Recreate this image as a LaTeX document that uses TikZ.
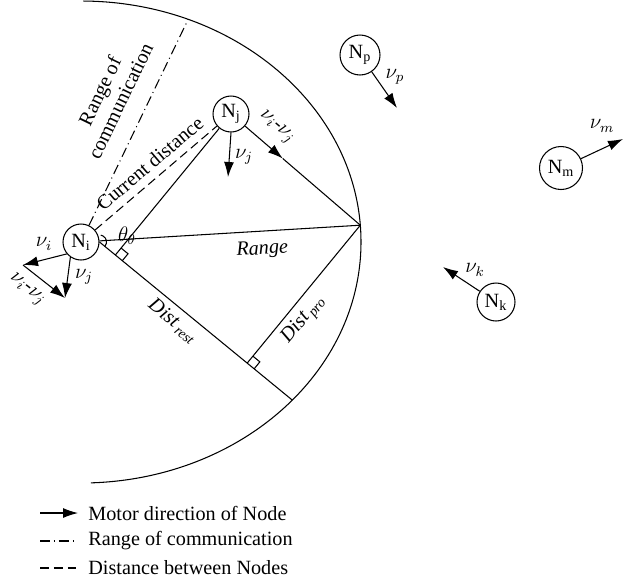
\documentclass[tikz,border=0pt]{standalone}
\usepackage{fontspec}
\setmainfont{Liberation Serif}
\usetikzlibrary{arrows.meta,calc}

\begin{document}
\begin{tikzpicture}[
        x=0.02cm, y=0.02cm, line width=0.6pt,
        font=\fontsize{11.5}{13}\selectfont,
        nd/.style={draw, circle, minimum size=0.72cm, inner sep=0pt},
        vel/.style={-{Latex[length=3mm,width=2mm]}},
        comm/.style={dash pattern=on 0.2cm off 0.08cm on 0.02cm off 0.08cm},
        dist/.style={dash pattern=on 0.18cm off 0.1cm}
    ]
    \useasboundingbox (0,0) rectangle (644,-586);

    % nodes
    \node [nd] (Ni) at (81,-242) {N\textsubscript{i}};
    \node [nd] (Nj) at (231,-114) {N\textsubscript{j}};
    \node [nd, minimum size=0.8cm] (Np) at (360,-55) {N\textsubscript{p}};
    \node [nd, minimum size=0.86cm] (Nm) at (561,-168) {N\textsubscript{m}};
    \node [nd, minimum size=0.76cm] (Nk) at (496,-302) {N\textsubscript{k}};

    % points on the range of communication
    \coordinate (R) at ($(Ni.center)+(4:280 and 241)$);
    \coordinate (B) at ($(Ni.center)+(-41:280 and 241)$);
    \coordinate (C) at ($(Ni.center)+(67.5:280 and 241)$);
    \coordinate (V) at (Ni.east);
    \coordinate (F1) at ($(V)!(Nj)!(B)$);
    \coordinate (F2) at ($(V)!(R)!(B)$);
    \coordinate (Mj) at ($(Nj)!0.4!(R)$);

    \draw ($(Ni.center)+(89.5:280 and 241)$) arc[start angle=89.5, end angle=-88, x radius=280, y radius=241];

    \draw [comm] (Ni) -- node [sloped, above=7pt, pos=0.55, align=center] (lcomm) {Range of\\communication} (C);
    \draw [dist] (Ni) -- node [sloped, above=1pt, pos=0.53] (lcur) {Current distance} (Nj);
    \draw (Ni) -- node [sloped, below=2pt, pos=0.62] (lrange) {\textit{Range}} (R);
    \draw (V) -- node [sloped, below, pos=0.43] (lrest) {\textit{Dist}\textsubscript{\,\textit{rest}}} (B);
    \draw (Nj) -- (F1);
    \draw (F2) -- node [sloped, below, pos=0.39] (lpro) {\textit{Dist}\textsubscript{\,\textit{pro}}} (R);
    \draw [vel] (Nj) -- node [sloped, above=3pt] (lvijj) {$\nu_i$-$\nu_j$} (Mj);
    \draw (Mj) -- (R);

    % right angles and angle
    \draw ($(F1)!0.18cm!(B)$) -- ($(F1)!0.18cm!(B)!0.18cm!90:(B)$) -- ($(F1)!0.18cm!(Nj)$);
    \draw ($(F2)!0.18cm!(B)$) -- ($(F2)!0.18cm!(B)!0.18cm!90:(B)$) -- ($(F2)!0.18cm!(R)$);
    \draw (V) ++(80:7) arc[start angle=80, end angle=-40, radius=7];
    \node (lth) at (127,-236) {$\theta_\theta$};

    % velocities
    \coordinate (vi) at (23,-265);
    \coordinate (vj) at (65,-298);
    \draw [vel] (Ni.220) -- (vi);
    \draw [vel] (Ni.235) -- (vj);
    \draw [vel] (vi) -- node [sloped, below=2pt, pos=0.35] (lvij) {$\nu_i$-$\nu_j$} (vj);
    \node (lvi) at (44,-244) {$\nu_i$};
    \node (lvj) at (84,-277) {$\nu_j$};

    \coordinate (vjj) at (228,-177);
    \draw [vel] (Nj.south) -- (vjj);
    \node (lvjj) at (244,-157) {$\nu_j$};

    \coordinate (vp) at (397,-108);
    \draw [vel] (Np) -- (vp);
    \node (lvp) at (395,-77) {$\nu_p$};
    \coordinate (vm) at (623,-139);
    \draw [vel] (Nm) -- (vm);
    \node (lvm) at (602,-126) {$\nu_m$};
    \coordinate (vk) at (443,-267);
    \draw [vel] (Nk) -- (vk);
    \node (lvk) at (475,-270) {$\nu_k$};

    % legend
    \coordinate (a1) at (40,-513); \coordinate (a2) at (78,-513);
    \coordinate (b1) at (40,-541); \coordinate (b2) at (76,-541);
    \coordinate (c1) at (40,-568); \coordinate (c2) at (76,-568);
    \draw [vel] (a1) -- (a2);
    \draw [comm] (b1) -- (b2);
    \draw [dist] (c1) -- (c2);
    \node [right] (t1) at (82,-513) {Motor direction of Node};
    \node [right] (t2) at (82,-541) {Range of communication};
    \node [right] (t3) at (82,-568) {Distance between Nodes};

\end{tikzpicture}
\end{document}
